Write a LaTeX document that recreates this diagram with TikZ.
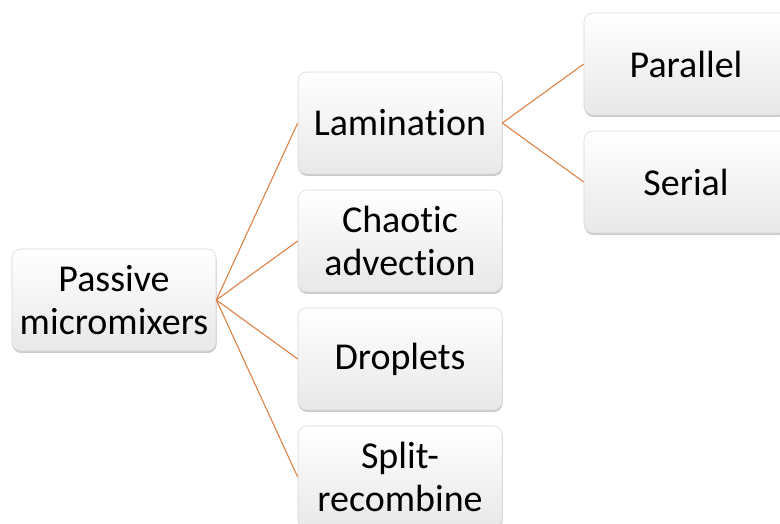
\documentclass[tikz,border=0pt]{standalone}
\usepackage{fontspec}
\setmainfont[Ligatures=NoCommon]{Carlito}
\usepackage{tikz}
\usetikzlibrary{shadows}
\definecolor{linkorange}{RGB}{222,132,74}
\definecolor{boxline}{RGB}{215,215,215}
\tikzset{
  box/.style={rounded corners=0.22cm, draw=boxline, top color=white, bottom color=black!9,
    minimum width=5.1cm, minimum height=2.55cm, align=center, inner sep=2pt,
    font=\fontsize{27}{30.5}\selectfont,
    drop shadow={shadow xshift=0.4pt, shadow yshift=-1.4pt, opacity=0.35, fill=black!60}},
  link/.style={draw=linkorange, line width=0.8pt}
}

\begin{document}
\begin{tikzpicture}[x=0.025cm, y=-0.025cm]
  \useasboundingbox (0,0) rectangle (780,524);
  \clip (0,0) rectangle (780,524);
  \node [box] (PM) at (114, 300) {Passive\\micromixers};
  \node [box] (LM) at (400, 123) {Lamination};
  \node [box] (CA) at (400, 241) {Chaotic\\advection};
  \node [box] (DR) at (400, 359) {Droplets};
  \node [box] (SR) at (400, 477) {Split-\\recombine};
  \node [box] (PA) at (686, 64) {Parallel};
  \node [box] (SE) at (686, 182) {Serial};
  \draw [link] (PM.east) -- (LM.west);
  \draw [link] (PM.east) -- (CA.west);
  \draw [link] (PM.east) -- (DR.west);
  \draw [link] (PM.east) -- (SR.west);
  \draw [link] (LM.east) -- (PA.west);
  \draw [link] (LM.east) -- (SE.west);
\end{tikzpicture}
\end{document}
